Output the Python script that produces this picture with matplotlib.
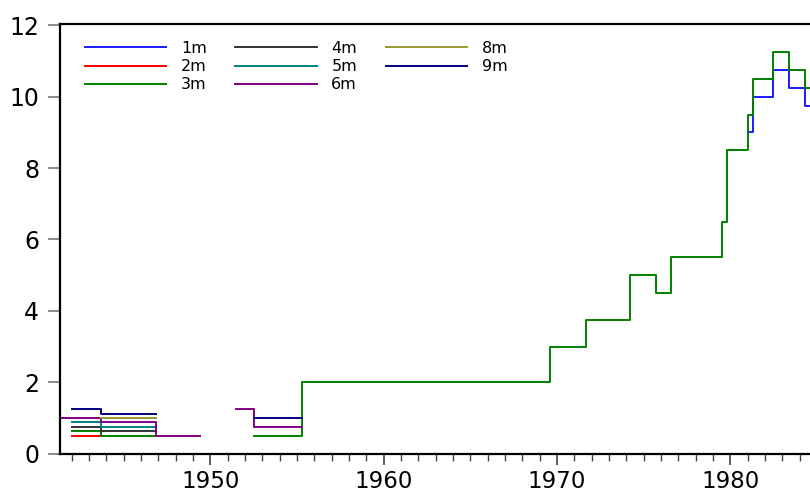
import numpy as np
import matplotlib
matplotlib.use("Agg")
import matplotlib.pyplot as plt
from matplotlib.ticker import MultipleLocator

nan = np.nan

# step series: break years and the level held from each break to the next
x_1m = [1981.05, 1981.33, 1982.45, 1983.4, 1984.3, 1984.7]
y_1m = [9.0, 10.0, 10.75, 10.25, 9.75]

x_2m = [1942.0, 1943.7]
y_2m = [0.5]

x_3m = [1942.0, 1943.7, 1946.85, 1952.55, 1955.3, 1969.6, 1971.7, 1974.2,
        1975.7, 1976.6, 1979.55, 1979.8, 1981.05, 1981.33, 1982.45, 1983.4,
        1984.3, 1984.7]
y_3m = [0.625, 0.5, nan, 0.5, 2.0, 3.0, 3.75, 5.0, 4.5, 5.5, 6.5, 8.5, 9.5,
        10.5, 11.25, 10.75, 10.25]

x_4m = [1942.0, 1943.7, 1946.85]
y_4m = [0.75, 0.625]

x_5m = [1942.0, 1943.7, 1946.85]
y_5m = [0.875, 0.75]

x_6m = [1941.33, 1943.7, 1946.85, 1949.4, 1951.5, 1952.5, 1955.3]
y_6m = [1.0, 0.875, 0.5, nan, 1.25, 0.75]

x_8m = [1943.7, 1946.85]
y_8m = [1.0]

x_9m = [1942.0, 1943.7, 1946.85, 1952.55, 1955.3]
y_9m = [1.25, 1.125, nan, 1.0]

labels = ['1m', '2m', '3m', '4m', '5m', '6m', '8m', '9m']
colors = ['#1a1aff', '#ff0000', '#008000', '#333333', '#008080', '#800080',
          '#999933', '#000080']

series = [(x_1m, y_1m), (x_2m, y_2m), (x_3m, y_3m), (x_4m, y_4m),
          (x_5m, y_5m), (x_6m, y_6m), (x_8m, y_8m), (x_9m, y_9m)]

plt.rcParams['font.family'] = ['DejaVu Sans']

fig = plt.figure(figsize=(8.1, 4.91), dpi=100)
ax = fig.add_axes([60 / 810, 1 - 454.3 / 491, 750 / 810, (454.3 - 24) / 491])

for (xs, ys), lab, col in zip(series, labels, colors):
    yy = list(ys) + [ys[-1]]
    ax.step(xs, yy, where='post', color=col, lw=1.4, label=lab)

ax.set_xlim(1941.33, 1984.60)
ax.set_ylim(-0.017, 12.036)
ax.xaxis.set_major_locator(MultipleLocator(10))
ax.xaxis.set_minor_locator(MultipleLocator(1))
ax.yaxis.set_major_locator(MultipleLocator(2))

ax.spines['right'].set_visible(False)
for s in ['left', 'bottom', 'top']:
    ax.spines[s].set_linewidth(1.6)

ax.tick_params(axis='x', which='major', direction='out', length=8, width=1.2,
               color='#444444', labelsize=16.5, pad=3)
ax.tick_params(axis='x', which='minor', direction='out', length=5, width=1.0,
               color='#444444')
ax.tick_params(axis='y', which='major', direction='out', length=9, width=1.2,
               color='#777777', labelsize=17, pad=6)

ax.legend(ncol=3, frameon=False, fontsize=11.5, handlelength=5.1,
          handletextpad=0.9, columnspacing=1.8, labelspacing=0.2,
          borderpad=0, borderaxespad=0,
          loc='upper left', bbox_to_anchor=(85 / 810, 1 - 41 / 491),
          bbox_transform=fig.transFigure)

fig.savefig('out.png', dpi=100)
